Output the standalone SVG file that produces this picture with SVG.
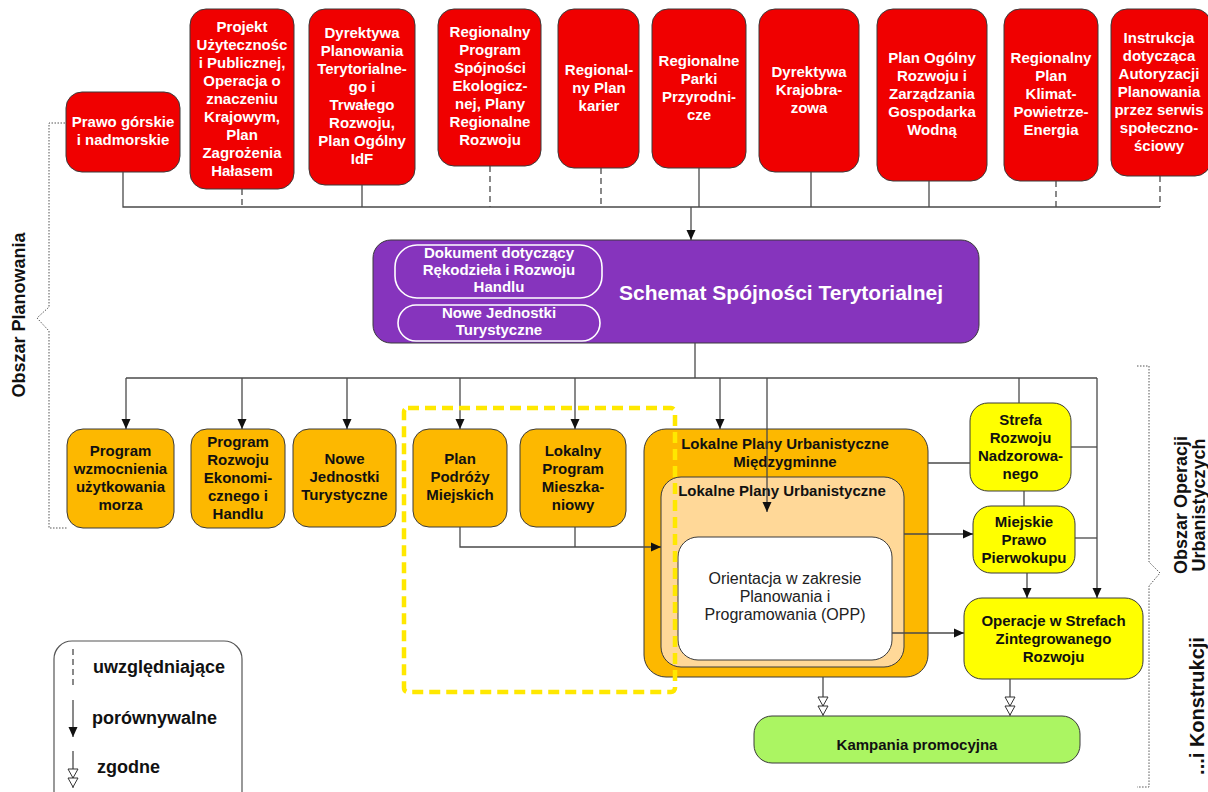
<svg xmlns="http://www.w3.org/2000/svg" width="1208" height="792" viewBox="0 0 1208 792">
<defs>
<style>
.red{fill:#F00000;stroke:#3a3a3a;stroke-width:1}
.pur{fill:#8634BD;stroke:#3a3a3a;stroke-width:1}
.pin{fill:none;stroke:#ffffff;stroke-width:1.6}
.org{fill:#FDB800;stroke:#3a3a3a;stroke-width:1}
.lor{fill:#FFD898;stroke:#3a3a3a;stroke-width:1}
.wht{fill:#ffffff;stroke:#3a3a3a;stroke-width:1}
.yel{fill:#FFFF00;stroke:#3a3a3a;stroke-width:1}
.grn{fill:#ABF562;stroke:#3a3a3a;stroke-width:1}
.leg{fill:#ffffff;stroke:#555;stroke-width:1.2}
text{font-family:"Liberation Sans",Arial,sans-serif;text-anchor:middle}
.tw{fill:#ffffff;font-size:15px;font-weight:bold}
.tb{fill:#111;font-size:15px;font-weight:bold}
.tn{fill:#222;font-size:16px}
.ttl{fill:#ffffff;font-size:21px;font-weight:bold}
.tl{fill:#111;font-size:18px;font-weight:bold;text-anchor:start}
.side{fill:#111;font-size:18px;font-weight:bold}
.c{fill:none;stroke:#4a4a4a;stroke-width:1.3}
.d{fill:none;stroke:#4a4a4a;stroke-width:1.3;stroke-dasharray:6 4}
.br{fill:none;stroke:#555;stroke-width:1;stroke-dasharray:1.5 1.5}
</style>
<marker id="arr" viewBox="-10 -5 10 10" refX="0" refY="0" markerWidth="10" markerHeight="10" markerUnits="userSpaceOnUse" orient="auto"><path d="M-10,-4.5 L0,0 L-10,4.5 Z" fill="#111"/></marker>
<marker id="dbl" viewBox="-20 -6 21 12" refX="0" refY="0" markerWidth="21" markerHeight="12" markerUnits="userSpaceOnUse" orient="auto"><path d="M-19,-5 L-10,0 L-19,5 Z M-10,-5 L-1,0 L-10,5 Z" fill="#fff" stroke="#333" stroke-width="1"/></marker>
</defs>
<rect width="1208" height="792" fill="#ffffff"/>

<!-- top red nodes -->
<g id="n-prawo"><rect class="red" x="66" y="92" width="114" height="80" rx="16"/><text class="tw"><tspan x="123" y="127">Prawo górskie</tspan><tspan x="123" y="145">i nadmorskie</tspan></text></g>
<g id="n-projekt"><rect class="red" x="190" y="9" width="104" height="180" rx="16"/><text class="tw"><tspan x="242" y="32">Projekt</tspan><tspan x="242" y="50">Użytecznośc</tspan><tspan x="242" y="68">i Publicznej,</tspan><tspan x="242" y="86">Operacja o</tspan><tspan x="242" y="104">znaczeniu</tspan><tspan x="242" y="122">Krajowym,</tspan><tspan x="242" y="140">Plan</tspan><tspan x="242" y="158">Zagrożenia</tspan><tspan x="242" y="176">Hałasem</tspan></text></g>
<g id="n-dyrektywa-plan"><rect class="red" x="309" y="9" width="106" height="176" rx="16"/><text class="tw"><tspan x="362" y="38">Dyrektywa</tspan><tspan x="362" y="56">Planowania</tspan><tspan x="362" y="74">Terytorialne-</tspan><tspan x="362" y="92">go i</tspan><tspan x="362" y="110">Trwałego</tspan><tspan x="362" y="128">Rozwoju,</tspan><tspan x="362" y="146">Plan Ogólny</tspan><tspan x="362" y="164">IdF</tspan></text></g>
<g id="n-rpse"><rect class="red" x="438" y="9" width="103" height="157" rx="16"/><text class="tw"><tspan x="490" y="37">Regionalny</tspan><tspan x="490" y="55">Program</tspan><tspan x="490" y="73">Spójności</tspan><tspan x="490" y="91">Ekologicz-</tspan><tspan x="490" y="109">nej, Plany</tspan><tspan x="490" y="127">Regionalne</tspan><tspan x="490" y="145">Rozwoju</tspan></text></g>
<g id="n-karier"><rect class="red" x="558" y="9" width="81" height="159" rx="16"/><text class="tw"><tspan x="599" y="75">Regional-</tspan><tspan x="599" y="93">ny Plan</tspan><tspan x="599" y="111">karier</tspan></text></g>
<g id="n-parki"><rect class="red" x="652" y="9" width="94" height="159" rx="16"/><text class="tw"><tspan x="699" y="66">Regionalne</tspan><tspan x="699" y="84">Parki</tspan><tspan x="699" y="102">Przyrodni-</tspan><tspan x="699" y="120">cze</tspan></text></g>
<g id="n-krajobraz"><rect class="red" x="759" y="9" width="100" height="163" rx="16"/><text class="tw"><tspan x="809" y="77">Dyrektywa</tspan><tspan x="809" y="95">Krajobra-</tspan><tspan x="809" y="113">zowa</tspan></text></g>
<g id="n-woda"><rect class="red" x="877" y="9" width="110" height="172" rx="16"/><text class="tw"><tspan x="932" y="63">Plan Ogólny</tspan><tspan x="932" y="81">Rozwoju i</tspan><tspan x="932" y="99">Zarządzania</tspan><tspan x="932" y="117">Gospodarka</tspan><tspan x="932" y="135">Wodną</tspan></text></g>
<g id="n-klimat"><rect class="red" x="1004" y="9" width="94" height="172" rx="16"/><text class="tw"><tspan x="1051" y="63">Regionalny</tspan><tspan x="1051" y="81">Plan</tspan><tspan x="1051" y="99">Klimat-</tspan><tspan x="1051" y="117">Powietrze-</tspan><tspan x="1051" y="135">Energia</tspan></text></g>
<g id="n-instrukcja"><rect class="red" x="1111" y="9" width="100" height="167" rx="16"/><text class="tw"><tspan x="1159" y="43">Instrukcja</tspan><tspan x="1159" y="61">dotycząca</tspan><tspan x="1159" y="79">Autoryzacji</tspan><tspan x="1159" y="97">Planowania</tspan><tspan x="1159" y="115">przez serwis</tspan><tspan x="1159" y="133">społeczno-</tspan><tspan x="1159" y="151">ściowy</tspan></text></g>

<!-- purple -->
<g id="n-schemat"><rect class="pur" x="373" y="240" width="606" height="103" rx="18"/>
<rect class="pin" x="395" y="245" width="207" height="53" rx="22"/>
<rect class="pin" x="398" y="305" width="202" height="36" rx="18"/>
<text class="tw"><tspan x="499" y="258">Dokument dotyczący</tspan><tspan x="499" y="275">Rękodzieła i Rozwoju</tspan><tspan x="499" y="292">Handlu</tspan></text>
<text class="tw"><tspan x="499" y="318">Nowe Jednostki</tspan><tspan x="499" y="335">Turystyczne</tspan></text>
<text class="ttl" x="781" y="300">Schemat Spójności Terytorialnej</text></g>

<!-- orange row -->
<g id="n-morza"><rect class="org" x="67" y="429" width="107" height="99" rx="16"/><text class="tb"><tspan x="120.5" y="456">Program</tspan><tspan x="120.5" y="474">wzmocnienia</tspan><tspan x="120.5" y="492">użytkowania</tspan><tspan x="120.5" y="510">morza</tspan></text></g>
<g id="n-ekonom"><rect class="org" x="191" y="429" width="94" height="99" rx="16"/><text class="tb"><tspan x="238" y="447">Program</tspan><tspan x="238" y="465">Rozwoju</tspan><tspan x="238" y="483">Ekonomi-</tspan><tspan x="238" y="501">cznego i</tspan><tspan x="238" y="519">Handlu</tspan></text></g>
<g id="n-turyst"><rect class="org" x="293" y="429" width="103" height="98" rx="16"/><text class="tb"><tspan x="344.5" y="464">Nowe</tspan><tspan x="344.5" y="482">Jednostki</tspan><tspan x="344.5" y="500">Turystyczne</tspan></text></g>
<g id="n-podrozy"><rect class="org" x="413" y="429" width="94" height="98" rx="16"/><text class="tb"><tspan x="460" y="464">Plan</tspan><tspan x="460" y="482">Podróży</tspan><tspan x="460" y="500">Miejskich</tspan></text></g>
<g id="n-mieszk"><rect class="org" x="520" y="429" width="106" height="98" rx="16"/><text class="tb"><tspan x="573" y="456">Lokalny</tspan><tspan x="573" y="474">Program</tspan><tspan x="573" y="492">Mieszka-</tspan><tspan x="573" y="510">niowy</tspan></text></g>

<!-- nested local plans -->
<g id="n-miedzygminne"><rect class="org" x="644" y="429" width="284" height="248" rx="22"/><text class="tb"><tspan x="785" y="449">Lokalne Plany Urbanistyczne</tspan><tspan x="785" y="467">Międzygminne</tspan></text></g>
<g id="n-lokalne"><rect class="lor" x="661" y="477" width="243" height="190" rx="20"/><text class="tb" x="782" y="496">Lokalne Plany Urbanistyczne</text></g>
<g id="n-opp"><rect class="wht" x="678" y="537" width="214" height="123" rx="20"/><text class="tn"><tspan x="785" y="584">Orientacja w zakresie</tspan><tspan x="785" y="602">Planowania i</tspan><tspan x="785" y="620">Programowania (OPP)</tspan></text></g>

<!-- yellow -->
<g id="n-strefa"><rect class="yel" x="970" y="403" width="101" height="88" rx="18"/><text class="tb"><tspan x="1020.5" y="425">Strefa</tspan><tspan x="1020.5" y="443">Rozwoju</tspan><tspan x="1020.5" y="461">Nadzorowa-</tspan><tspan x="1020.5" y="479">nego</tspan></text></g>
<g id="n-prawo-pierw"><rect class="yel" x="973" y="506" width="102" height="67" rx="18"/><text class="tb"><tspan x="1024" y="527">Miejskie</tspan><tspan x="1024" y="545">Prawo</tspan><tspan x="1024" y="563">Pierwokupu</tspan></text></g>
<g id="n-operacje"><rect class="yel" x="964" y="598" width="179" height="81" rx="18"/><text class="tb"><tspan x="1053.5" y="626">Operacje w Strefach</tspan><tspan x="1053.5" y="644">Zintegrowanego</tspan><tspan x="1053.5" y="662">Rozwoju</tspan></text></g>

<!-- green -->
<g id="n-kampania"><rect class="grn" x="754" y="716" width="326" height="47" rx="18"/><text class="tb" x="917" y="750">Kampania promocyjna</text></g>

<!-- connectors -->
<g id="connectors">
<path class="c" d="M123,172 V207 H1160"/>
<path class="d" d="M242,189 V207"/>
<path class="c" d="M362,185 V207"/>
<path class="d" d="M490,166 V207"/>
<path class="d" d="M601,168 V207"/>
<path class="c" d="M699,168 V207"/>
<path class="c" d="M811,172 V207"/>
<path class="c" d="M929,181 V207"/>
<path class="d" d="M1056,181 V207"/>
<path class="d" d="M1160,176 V207"/>
<path class="c" d="M691,207 V240" marker-end="url(#arr)"/>
<path class="c" d="M695,343 V378"/>
<path class="c" d="M126,378 H1097"/>
<path class="c" d="M126,378 V429" marker-end="url(#arr)"/>
<path class="c" d="M242,378 V429" marker-end="url(#arr)"/>
<path class="c" d="M347,378 V429" marker-end="url(#arr)"/>
<path class="c" d="M460,378 V429" marker-end="url(#arr)"/>
<path class="c" d="M575,378 V429" marker-end="url(#arr)"/>
<path class="c" d="M720,378 V429" marker-end="url(#arr)"/>
<path class="c" d="M767,378 V512" marker-end="url(#arr)"/>
<path class="c" d="M1019,378 V403"/>
<path class="c" d="M1097,378 V598" marker-end="url(#arr)"/>
<path class="c" d="M1071,447 H1097"/>
<path class="c" d="M1075,538 H1097"/>
<path class="c" d="M928,463 H970"/>
<path class="c" d="M1024,491 V506"/>
<path class="c" d="M1027,573 V598" marker-end="url(#arr)"/>
<path class="c" d="M904,534 H973" marker-end="url(#arr)"/>
<path class="c" d="M892,633 H964" marker-end="url(#arr)"/>
<path class="c" d="M460,527 V547 H661" marker-end="url(#arr)"/>
<path class="c" d="M575,527 V547"/>
<path class="c" d="M823,677 V716" marker-end="url(#dbl)"/>
<path class="c" d="M1010,679 V716" marker-end="url(#dbl)"/>
</g>

<!-- highlight -->
<rect x="404" y="408" width="271" height="284" rx="4" fill="none" stroke="#FFE800" stroke-width="4.5" stroke-dasharray="11 6"/>

<!-- brackets -->
<path class="br" d="M65,123 H49 V307 L37,318 L49,331 V528 H67"/>
<path class="br" d="M1137,366 H1149 V562 L1160,573 L1149,586 V787 H1137"/>
<text class="side" transform="translate(25,315) rotate(-90)">Obszar Planowania</text>
<text class="side" transform="translate(1187,505) rotate(-90)">Obszar Operacji</text>
<text class="side" transform="translate(1205,505) rotate(-90)">Urbanistyczych</text>
<text class="side" style="font-size:20px" transform="translate(1204,706) rotate(-90)">...i Konstrukcji</text>

<!-- legend -->
<g id="legend">
<rect class="leg" x="54" y="641" width="188" height="170" rx="18"/>
<path class="d" d="M73,649 V688"/>
<path class="c" d="M73,700 V737" marker-end="url(#arr)"/>
<path class="c" d="M73,751 V788" marker-end="url(#dbl)"/>
<text class="tl" x="93" y="673">uwzględniające</text>
<text class="tl" x="92" y="724">porównywalne</text>
<text class="tl" x="97" y="773">zgodne</text>
</g>
</svg>
